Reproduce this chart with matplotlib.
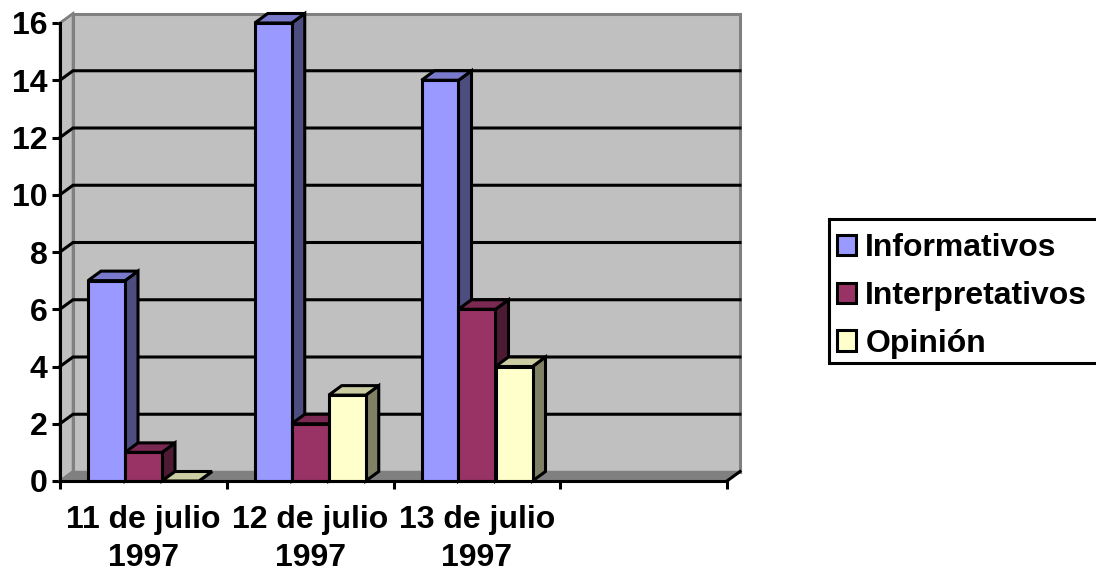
import numpy as np
import matplotlib
matplotlib.use('Agg')
import matplotlib.pyplot as plt
from matplotlib.patches import Polygon, Patch, Rectangle

categories = ['11 de julio\n1997', '12 de julio\n1997', '13 de julio\n1997']
informativos = [7, 16, 14]
interpretativos = [1, 2, 6]
opinion = [0, 3, 4]
y_ticks = [0, 2, 4, 6, 8, 10, 12, 14, 16]

series = [
    ('Informativos', informativos, '#9999FF', '#7A7ACC', '#4D4D80'),
    ('Interpretativos', interpretativos, '#993366', '#7A2952', '#4D1A33'),
    ('Opinión', opinion, '#FFFFCC', '#CCCCA3', '#808066'),
]

plt.rcParams['font.family'] = ['Liberation Sans', 'DejaVu Sans']
plt.rcParams['font.weight'] = 'bold'

W, H = 1096, 574
LW = 2.2
fig = plt.figure(figsize=(W / 100, H / 100), dpi=100)
ax = fig.add_axes([60 / W, 1 - 481 / H, 667 / W, 458 / H])
ax.set_xlim(0, 4)
ax.set_ylim(0, 16)
ax.patch.set_visible(False)
for s in ['top', 'right']:
    ax.spines[s].set_visible(False)
for s in ['left', 'bottom']:
    ax.spines[s].set_linewidth(LW)
    ax.spines[s].set_zorder(20)

# depth of the fake 3d box, in data units
dx = 13 / (667 / 4)
dy = 9.5 / (458 / 16)

def poly(points, face, edge='black', lw=LW, z=3):
    ax.add_patch(Polygon(points, closed=True, facecolor=face, edgecolor=edge,
                         linewidth=lw, zorder=z, clip_on=False, joinstyle='miter'))

# walls and floor
poly([(0, 0), (dx, dy), (dx, 16 + dy), (0, 16)], '#C0C0C0', '#808080', 1.8, 1)
poly([(dx, dy), (4 + dx, dy), (4 + dx, 16 + dy), (dx, 16 + dy)], '#C0C0C0', '#808080', 2.2, 1)
poly([(0, 0), (4, 0), (4 + dx, dy), (dx, dy)], '#808080', '#808080', 1.0, 2)
ax.plot([4, 4 + dx], [0, dy], color='black', lw=LW, clip_on=False, zorder=3)
ax.plot([0, dx], [0, dy], color='#808080', lw=1.8, clip_on=False, zorder=3)

for t in y_ticks[1:]:
    if t < 16:
        ax.plot([0, dx, 4 + dx], [t, t + dy, t + dy], color='black', lw=LW,
                clip_on=False, zorder=2.5, solid_joinstyle='miter')
    else:
        ax.plot([0, dx], [t, t + dy], color='#808080', lw=1.8, clip_on=False, zorder=2.5)

# bars, left to right so that the next bar hides the side of the previous one
bar_w = 37 / (667 / 4)
start = 28 / (667 / 4)
z = 4
for i in range(len(categories)):
    for j, (name, vals, front, top, side) in enumerate(series):
        x0 = i + start + j * bar_w
        x1 = x0 + bar_w
        v = vals[i]
        poly([(x1, 0), (x1 + dx, dy), (x1 + dx, v + dy), (x1, v)], side, z=z)
        poly([(x0, v), (x1, v), (x1 + dx, v + dy), (x0 + dx, v + dy)], top, z=z)
        if v > 0:
            poly([(x0, 0), (x1, 0), (x1, v), (x0, v)], front, z=z)
        z += 0.01

ax.set_yticks(y_ticks)
ax.set_xticks(np.arange(5))
ax.set_xticklabels([])
ax.set_xticks(np.arange(len(categories)) + 0.5, labels=categories, minor=True)
ax.tick_params(axis='y', length=5.5, width=LW, labelsize=23, pad=3.5)
ax.tick_params(axis='x', which='major', length=5.5, width=LW)
ax.tick_params(axis='x', which='minor', length=0, labelsize=23, pad=17.5)
for lab in ax.get_xticklabels(minor=True):
    lab.set_linespacing(1.32)

# legend box runs off the right edge of the image
fig.add_artist(Rectangle((829 / W, 1 - 363 / H), 300 / W, 144 / H, transform=fig.transFigure,
                         facecolor='white', edgecolor='black', linewidth=LW, zorder=5))
handles = [Patch(facecolor=s[2], edgecolor='black', linewidth=LW) for s in series]
leg = fig.legend(handles, [s[0] for s in series], loc='upper left',
                 bbox_to_anchor=(827 / W, 1 - 223.5 / H), bbox_transform=fig.transFigure,
                 fontsize=23, frameon=False, borderaxespad=0, borderpad=0.3, labelspacing=0.56,
                 handlelength=0.6, handleheight=0.6, handletextpad=0.3)
leg.set_zorder(6)

fig.savefig('out.png', dpi=100, facecolor='white')
